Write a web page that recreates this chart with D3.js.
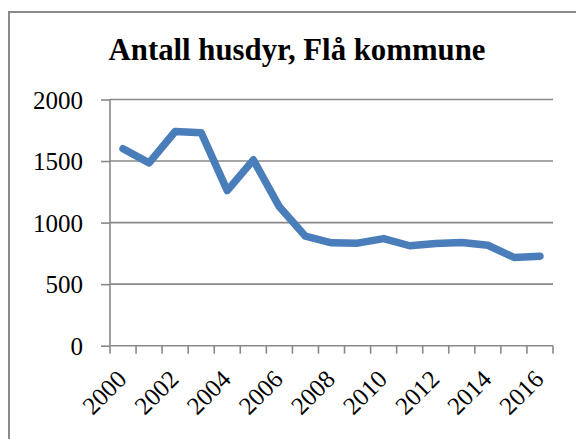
<!DOCTYPE html>
<html>
<head>
<meta charset="utf-8">
<script src="https://cdn.jsdelivr.net/npm/d3@7"></script>
<style>
  html, body { margin: 0; padding: 0; background: #fff; }
  svg { display: block; }
  text { font-family: "Liberation Serif", "DejaVu Serif", serif; fill: #000; }
</style>
</head>
<body>
<svg id="chart" width="576" height="439"></svg>
<script>
const title = "Antall husdyr, Flå kommune";
const years = [2000, 2001, 2002, 2003, 2004, 2005, 2006, 2007, 2008, 2009, 2010, 2011, 2012, 2013, 2014, 2015, 2016];
const values = [1600, 1485, 1740, 1730, 1260, 1510, 1128, 890, 836, 833, 870, 812, 831, 838, 816, 717, 727];
const yTicks = [0, 500, 1000, 1500, 2000];
const xLabelYears = [2000, 2002, 2004, 2006, 2008, 2010, 2012, 2014, 2016];

const svg = d3.select("#chart");
const gray = "#898989";
const blue = "#4a7ebb";
const fontSize = 25;

// outer chart border (extends beyond the visible frame)
svg.append("rect")
  .attr("x", 9).attr("y", 12)
  .attr("width", 620).attr("height", 460)
  .attr("fill", "none").attr("stroke", gray).attr("stroke-width", 2);

const plot = { left: 110, right: 553, top: 99.5, bottom: 345.7 };

const x = d3.scaleBand().domain(years).range([plot.left, plot.right]).padding(0);
const y = d3.scaleLinear().domain([0, 2000]).range([plot.bottom, plot.top]);

// gridlines
svg.append("g").selectAll("line").data(yTicks.filter(d => d > 0)).join("line")
  .attr("x1", plot.left).attr("x2", plot.right)
  .attr("y1", d => y(d)).attr("y2", d => y(d))
  .attr("stroke", gray).attr("stroke-width", 1.6);

// y axis
const yAxis = svg.append("g").attr("transform", `translate(${plot.left},0)`)
  .call(d3.axisLeft(y).tickValues(yTicks).tickSize(9).tickPadding(18).tickFormat(d3.format("d")));
yAxis.select(".domain").attr("stroke", gray).attr("stroke-width", 1.6).attr("d", `M0,${plot.top}V${plot.bottom}`);
yAxis.selectAll(".tick line").attr("stroke", gray).attr("stroke-width", 1.6);
yAxis.selectAll(".tick text").attr("font-size", fontSize).attr("font-family", "Liberation Serif").attr("fill", "#000").attr("dy", "0.34em");

// x axis line and ticks at band boundaries
const bounds = years.map(d => x(d)).concat([x(years[years.length - 1]) + x.bandwidth()]);
const xg = svg.append("g");
xg.append("line").attr("x1", plot.left).attr("x2", plot.right)
  .attr("y1", plot.bottom).attr("y2", plot.bottom)
  .attr("stroke", gray).attr("stroke-width", 1.6);
xg.selectAll("line.tk").data(bounds).join("line").attr("class", "tk")
  .attr("x1", d => d).attr("x2", d => d)
  .attr("y1", plot.bottom).attr("y2", plot.bottom + 8)
  .attr("stroke", gray).attr("stroke-width", 1.6);

xg.selectAll("text").data(xLabelYears).join("text")
  .attr("text-anchor", "end")
  .attr("font-size", fontSize)
  .attr("transform", d => `translate(${x(d) + x.bandwidth() / 2 + 5},${plot.bottom + 35}) rotate(-45)`)
  .text(d => d);

// line
const line = d3.line().x((d, i) => x(years[i]) + x.bandwidth() / 2).y(d => y(d));
svg.append("path").datum(values)
  .attr("d", line)
  .attr("fill", "none").attr("stroke", blue).attr("stroke-width", 7.5)
  .attr("stroke-linejoin", "round").attr("stroke-linecap", "round");

// title
const t = svg.append("text")
  .attr("x", 297).attr("y", 60)
  .attr("text-anchor", "middle")
  .attr("font-weight", "bold")
  .attr("font-size", 28)
  .text(title);
const w = t.node().getComputedTextLength();
t.attr("font-size", 28 * 377 / w);
</script>
</body>
</html>
